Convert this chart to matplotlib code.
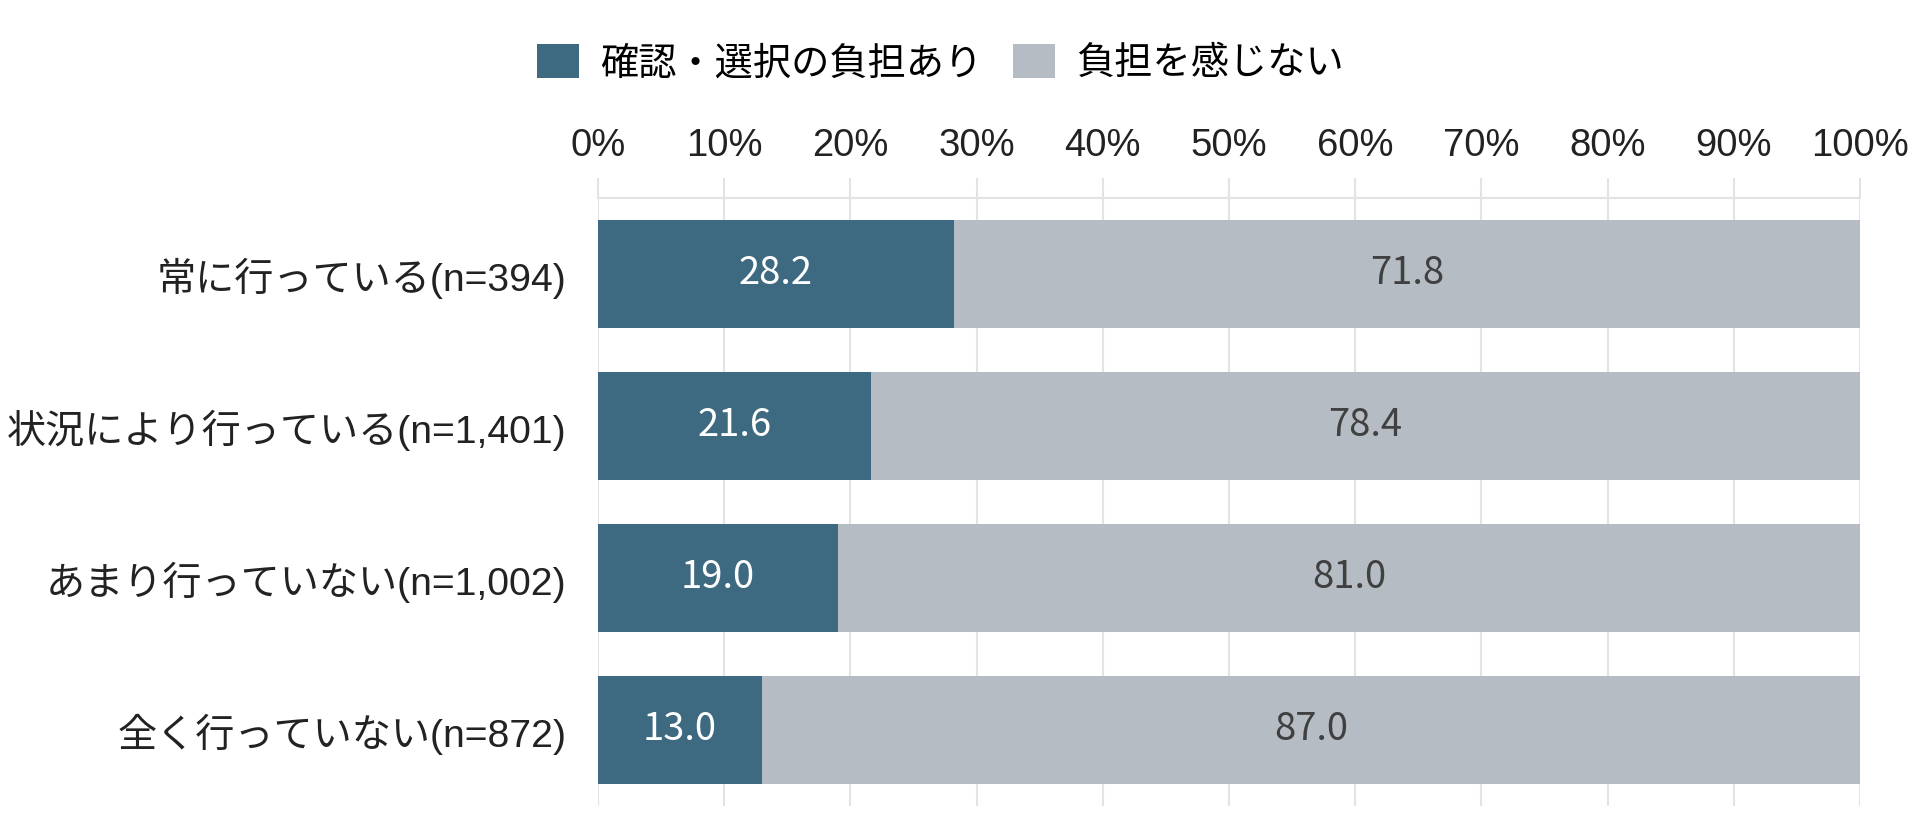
import matplotlib
matplotlib.use('Agg')
import matplotlib.pyplot as plt
import numpy as np

categories = ['常に行っている(n=394)', '状況により行っている(n=1,401)',
              'あまり行っていない(n=1,002)', '全く行っていない(n=872)']
burden = [28.2, 21.6, 19.0, 13.0]
no_burden = [71.8, 78.4, 81.0, 87.0]
series_labels = ['確認・選択の負担あり', '負担を感じない']
x_ticks = [0, 10, 20, 30, 40, 50, 60, 70, 80, 90, 100]
x_tick_labels = ['%d%%' % t for t in x_ticks]

dark = '#3e6a81'
light = '#b5bcc4'
grid_col = '#e3e3e3'
fams = ['Liberation Sans', 'Noto Sans CJK JP', 'DejaVu Sans']
plt.rcParams['font.family'] = fams

fig = plt.figure(figsize=(19.2, 8.36), dpi=100)
ax = fig.add_axes([598/1920, 1-806/836, (1860-598)/1920, (806-198)/836])

y = np.arange(len(categories))
b1 = ax.barh(y, burden, height=0.71, color=dark, label=series_labels[0], zorder=3)
b2 = ax.barh(y, no_burden, left=burden, height=0.71, color=light, label=series_labels[1], zorder=3)

for i in range(len(categories)):
    ax.text(burden[i] / 2, y[i], '%.1f' % burden[i], ha='center', va='center',
            color='white', fontsize=27.5, family='Noto Sans CJK JP', zorder=4)
    ax.text(burden[i] + no_burden[i] / 2, y[i], '%.1f' % no_burden[i], ha='center', va='center',
            color='#404040', fontsize=27.5, family='Noto Sans CJK JP', zorder=4)

ax.set_xlim(0, 100)
ax.set_ylim(3.5, -0.5)
ax.set_yticks(y)
ax.set_yticklabels(categories, fontsize=28.2, color='#222222')
ax.set_xticks(x_ticks)
ax.set_xticklabels(x_tick_labels, fontsize=27.5, color='#222222')
ax.xaxis.tick_top()
ax.tick_params(axis='x', length=14.4, width=1.5, color=grid_col, pad=10)
ax.tick_params(axis='y', length=0, pad=23)
ax.grid(axis='x', color=grid_col, linewidth=1.5, zorder=0)
for s in ['left', 'right', 'bottom']:
    ax.spines[s].set_visible(False)
ax.spines['top'].set_color(grid_col)
ax.spines['top'].set_linewidth(1.5)

fig.legend(handles=[b1, b2], labels=series_labels, loc='center', ncol=2,
           bbox_to_anchor=(940/1920, 1-63/836), frameon=False, fontsize=27.5,
           handlelength=1.1, handleheight=1.0, handletextpad=0.55, columnspacing=0.8)

plt.savefig('out.png', dpi=100)
